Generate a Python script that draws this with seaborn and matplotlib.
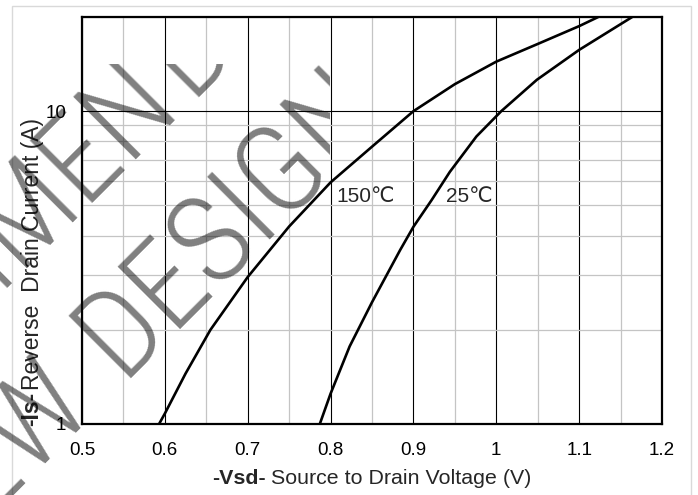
import numpy as np
import pandas as pd
import matplotlib
matplotlib.use("Agg")
import matplotlib.pyplot as plt
import seaborn as sns
from matplotlib.ticker import FixedLocator, MultipleLocator, LogLocator, NullFormatter
from matplotlib.transforms import Bbox, TransformedBbox
from matplotlib.patches import Rectangle

# ---------------- data ----------------
vsd_150 = [0.593, 0.60, 0.625, 0.655, 0.70, 0.75, 0.80, 0.85, 0.90, 0.95, 1.00, 1.05, 1.10, 1.123]
is_150 = [1.0, 1.08, 1.45, 2.0, 2.95, 4.28, 5.92, 7.7, 10.0, 12.2, 14.4, 16.4, 18.7, 20.0]
vsd_25 = [0.787, 0.80, 0.823, 0.85, 0.884, 0.90, 0.922, 0.944, 0.976, 1.006, 1.049, 1.10, 1.164]
is_25 = [1.0, 1.25, 1.77, 2.45, 3.6, 4.27, 5.2, 6.4, 8.3, 10.0, 12.6, 15.7, 20.0]
series_names = ["150℃", "25℃"]
xticks = [0.5, 0.6, 0.7, 0.8, 0.9, 1.0, 1.1, 1.2]
xtick_labels = ["0.5", "0.6", "0.7", "0.8", "0.9", "1", "1.1", "1.2"]
yticks = [1, 10]
ytick_labels = ["1", "10"]
xlabel_bold = "-Vsd-"
xlabel_rest = "Source to Drain Voltage (V)"
ylabel_bold = "-Is-"
ylabel_rest = "Reverse  Drain Current (A)"
wm_line1 = ("NOT RECOMMEN", "DED FOR")
wm_line2 = ("NEW", "DESIGN")

# ---------------- style ----------------
sns.set_style("white")
plt.rcParams["font.family"] = ["Liberation Sans", "DejaVu Sans"]

W, H = 698, 495
fig = plt.figure(figsize=(W / 100, H / 100), dpi=100)
fig.patch.set_facecolor("white")

def f(x, y):
    return (x / W, 1 - y / H)

# outer light frame
fig.patches.append(Rectangle(f(12, 500), (691 - 12) / W, (500 - 6) / H,
                             transform=fig.transFigure, fill=False, ec="#d9d9d9", lw=1.0))

ax = fig.add_axes([82 / W, 1 - 424 / H, 580 / W, 407 / H])

df = pd.DataFrame({
    "Vsd": vsd_150 + vsd_25,
    "Is": is_150 + is_25,
    "T": [series_names[0]] * len(vsd_150) + [series_names[1]] * len(vsd_25),
})
sns.lineplot(data=df, x="Vsd", y="Is", hue="T", palette=["black", "black"],
             legend=False, ax=ax, lw=1.9, estimator=None, sort=False, zorder=5)

ax.set_yscale("log")
ax.set_xlim(0.5, 1.2)
ax.set_ylim(1, 20)
ax.xaxis.set_major_locator(FixedLocator(xticks))
ax.set_xticklabels(xtick_labels)
ax.xaxis.set_minor_locator(MultipleLocator(0.05))
ax.yaxis.set_major_locator(FixedLocator(yticks))
ax.set_yticklabels(ytick_labels)
ax.yaxis.set_minor_locator(LogLocator(base=10, subs=np.arange(2, 10)))
ax.yaxis.set_minor_formatter(NullFormatter())
ax.set_axisbelow(True)
ax.grid(which="minor", color="#c4c4c4", lw=0.9)
ax.grid(which="major", color="black", lw=0.8)
ax.tick_params(which="both", length=0)
ax.tick_params(axis="x", pad=13, labelsize=13.5, colors="black")
ax.tick_params(axis="y", pad=11.5, labelsize=13.5, colors="black")
ax.set_xlabel("")
ax.set_ylabel("")
for s in ax.spines.values():
    s.set_visible(True)
    s.set_color("black")
    s.set_linewidth(1.6)

ax.text(0.8426, 5.35, series_names[0], ha="center", va="center", fontsize=15,
        family=["Liberation Sans", "DejaVu Sans"])
ax.text(0.968, 5.35, series_names[1], ha="center", va="center", fontsize=15,
        family=["Liberation Sans", "DejaVu Sans"])

renderer = fig.canvas.get_renderer()

# x label (bold part + regular part)
tb = fig.text(0, 0, xlabel_bold, weight="bold", fontsize=15.4, ha="left", va="baseline")
tr = fig.text(0, 0, xlabel_rest, fontsize=15.4, ha="left", va="baseline")
wb = tb.get_window_extent(renderer).width
wr = tr.get_window_extent(renderer).width
gap = 5
x0 = 372 - (wb + gap + wr) / 2
tb.set_position(f(x0, 484))
tr.set_position(f(x0 + wb + gap, 484))

# y label
yb = fig.text(0, 0, ylabel_bold, weight="bold", fontsize=16.5, rotation=90,
              rotation_mode="anchor", ha="left", va="center")
yr = fig.text(0, 0, ylabel_rest, fontsize=16.5, rotation=90,
              rotation_mode="anchor", ha="left", va="center")
hb = yb.get_window_extent(renderer).height
hr = yr.get_window_extent(renderer).height
ycen = 272
y0 = ycen + (hb + 1 + hr) / 2
yb.set_position(f(32, y0))
yr.set_position(f(32, y0 - hb - 1))

# watermark
d = 0.70710678
clipbox = TransformedBbox(Bbox.from_extents(0, 0, 330 / W, 1 - 64 / H), fig.transFigure)
wm_kw = dict(fontsize=89, color="black", alpha=0.5, rotation=45, rotation_mode="anchor",
             va="baseline", weight="light",
             family=["Roboto Condensed", "Archivo Narrow", "Liberation Sans"])
P2 = (121, 378)
g2 = 37
P1 = (192, 104)
g1 = 12
wm = [
    fig.text(*f(*P2), wm_line2[1], ha="left", **wm_kw),
    fig.text(*f(P2[0] - g2 * d, P2[1] + g2 * d), wm_line2[0], ha="right", **wm_kw),
    fig.text(*f(*P1), wm_line1[1], ha="left", **wm_kw),
    fig.text(*f(P1[0] - g1 * d, P1[1] + g1 * d), wm_line1[0], ha="right", **wm_kw),
]
for t in wm:
    t.set_clip_box(clipbox)
    t.set_clip_on(True)

fig.savefig("out.png", dpi=100)
